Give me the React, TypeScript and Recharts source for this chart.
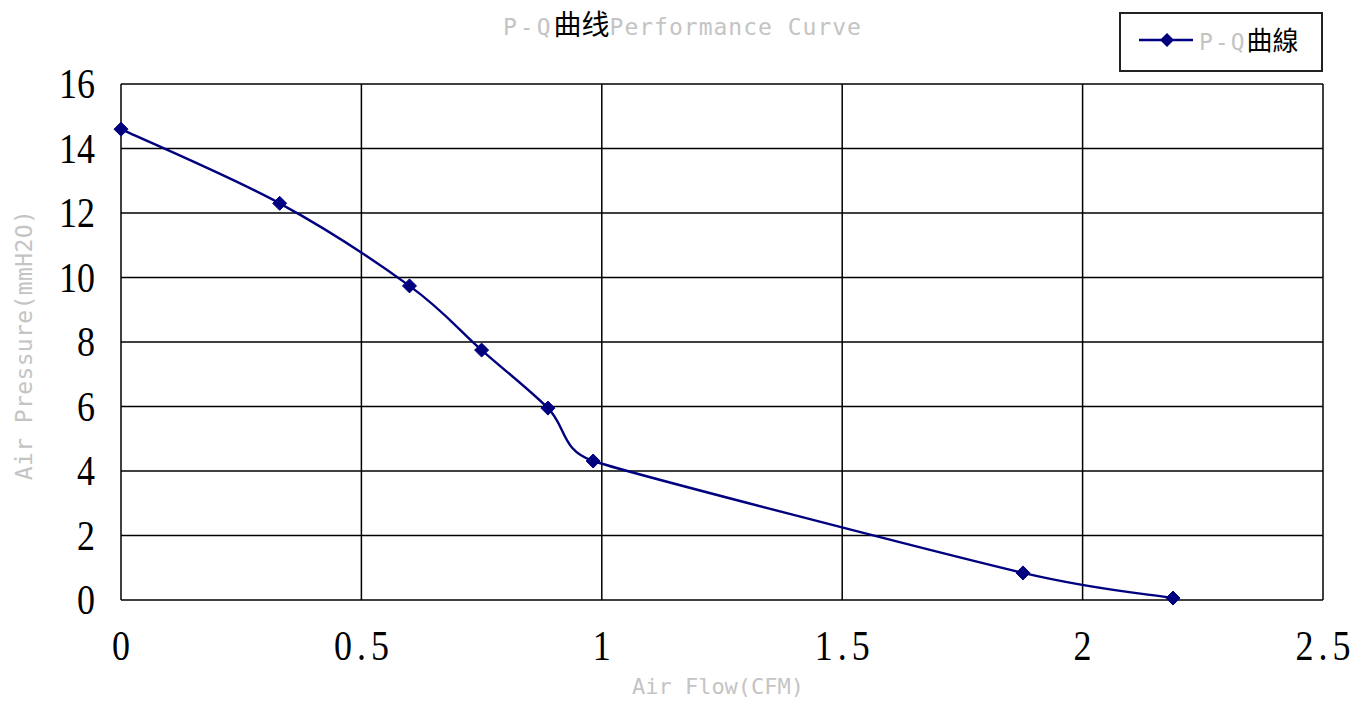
import React from "react";
import { LineChart, Line, XAxis, YAxis, CartesianGrid } from "recharts";

const flow = [0, 0.33, 0.6, 0.75, 0.888, 0.982, 1.876, 2.188];
const pressure = [14.6, 12.3, 9.74, 7.75, 5.95, 4.31, 0.84, 0.06];
const xTicks = [0, 0.5, 1, 1.5, 2, 2.5];
const yTicks = [0, 2, 4, 6, 8, 10, 12, 14, 16];

const data = flow.map((f, i) => ({ flow: f, pressure: pressure[i] }));

const NAVY = "#00007f";
const GRAY = "#c4c4c4";
const MONO = "'DejaVu Sans Mono', monospace";
const CJK = "'Noto Sans CJK SC', sans-serif";
const SERIF = "'Liberation Serif', 'Times New Roman', serif";

// Spreadsheet-style smoothing: Catmull-Rom Bezier with tangent length limited
function smoothCurve(context: any) {
  let pts: number[][] = [];
  return {
    areaStart() {},
    areaEnd() {},
    lineStart() {
      pts = [];
    },
    point(x: number, y: number) {
      pts.push([+x, +y]);
    },
    lineEnd() {
      const n = pts.length;
      if (!n) return;
      const dist = (a: number[], b: number[]) => Math.hypot(a[0] - b[0], a[1] - b[1]);
      const tang = (i: number) => {
        const p = pts[Math.max(0, i - 1)];
        const q = pts[Math.min(n - 1, i + 1)];
        let tx = (q[0] - p[0]) / 6;
        let ty = (q[1] - p[1]) / 6;
        const len = Math.hypot(tx, ty);
        const segs: number[] = [];
        if (i > 0) segs.push(dist(pts[i - 1], pts[i]));
        if (i < n - 1) segs.push(dist(pts[i], pts[i + 1]));
        const lim = Math.min(...segs) / 2;
        if (len > lim && len > 0) {
          tx *= lim / len;
          ty *= lim / len;
        }
        return [tx, ty];
      };
      context.moveTo(pts[0][0], pts[0][1]);
      for (let i = 0; i < n - 1; i++) {
        const a = pts[i];
        const b = pts[i + 1];
        const ta = tang(i);
        const tb = tang(i + 1);
        context.bezierCurveTo(a[0] + ta[0], a[1] + ta[1], b[0] - tb[0], b[1] - tb[1], b[0], b[1]);
      }
    },
  };
}

const Diamond = (props: any) => {
  const { cx, cy, index } = props;
  if (cx == null || cy == null) return <g key={index} />;
  const s = 7;
  return (
    <path
      key={index}
      d={`M${cx},${cy - s}L${cx + s},${cy}L${cx},${cy + s}L${cx - s},${cy}Z`}
      fill={NAVY}
      stroke={NAVY}
    />
  );
};

const YTick = (props: any) => {
  const { x, y, payload } = props;
  return (
    <text
      x={0}
      y={0}
      transform={`translate(${x},${y}) scale(1,1.2)`}
      textAnchor="end"
      dominantBaseline="central"
      fill="#000"
      fontSize={36}
      fontFamily={SERIF}
    >
      {payload.value}
    </text>
  );
};

const XTick = (props: any) => {
  const { x, y, payload } = props;
  return (
    <text
      x={0}
      y={0}
      transform={`translate(${x + 2.5},${y}) scale(1,1.2)`}
      textAnchor="middle"
      dominantBaseline="central"
      fill="#000"
      fontSize={36}
      fontFamily={SERIF}
      letterSpacing={5}
    >
      {String(payload.value)}
    </text>
  );
};

export default function App() {
  return (
    <div style={{ position: "absolute", left: 0, top: 0, width: 1370, height: 706, background: "#fff" }}>
      <LineChart
        width={1370}
        height={706}
        data={data}
        margin={{ top: 84, right: 47, bottom: 46, left: 21 }}
      >
        <CartesianGrid stroke="#000" strokeWidth={1.5} />
        <XAxis
          dataKey="flow"
          type="number"
          domain={[0, 2.5]}
          ticks={xTicks}
          axisLine={false}
          tickLine={false}
          tickSize={0}
          tickMargin={46}
          height={60}
          interval={0}
          tick={XTick}
        />
        <YAxis
          type="number"
          domain={[0, 16]}
          ticks={yTicks}
          axisLine={false}
          tickLine={false}
          tickSize={0}
          tickMargin={26}
          width={100}
          interval={0}
          tick={YTick}
        />
        <Line
          type={smoothCurve as any}
          dataKey="pressure"
          stroke={NAVY}
          strokeWidth={2.4}
          dot={Diamond}
          activeDot={false}
          isAnimationActive={false}
        />
      </LineChart>

      <div
        style={{
          position: "absolute",
          left: 503,
          top: 6,
          fontSize: 23,
          lineHeight: "34px",
          whiteSpace: "nowrap",
        }}
      >
        <span style={{ fontFamily: MONO, color: GRAY, letterSpacing: 3 }}>P-Q</span>
        <span style={{ fontFamily: CJK, color: "#000", fontSize: 28 }}>曲线</span>
        <span style={{ fontFamily: MONO, color: GRAY, letterSpacing: 1 }}>Performance Curve</span>
      </div>

      <div
        style={{
          position: "absolute",
          left: 1119,
          top: 12,
          width: 200,
          height: 56,
          border: "2px solid #222",
          boxSizing: "content-box",
        }}
      >
        <svg style={{ position: "absolute", left: 16, top: 15 }} width={60} height={22}>
          <line x1={2} y1={11} x2={56} y2={11} stroke={NAVY} strokeWidth={2.4} />
          <path d="M30,4L37,11L30,18L23,11Z" fill={NAVY} />
        </svg>
        <div
          style={{
            position: "absolute",
            left: 78,
            top: 8,
            fontSize: 23,
            lineHeight: "34px",
            whiteSpace: "nowrap",
          }}
        >
          <span style={{ fontFamily: MONO, color: GRAY, letterSpacing: 2 }}>P-Q</span>
          <span style={{ fontFamily: CJK, color: "#000", fontSize: 26 }}>曲線</span>
        </div>
      </div>

      <div
        style={{
          position: "absolute",
          left: 24,
          top: 345,
          transform: "translate(-50%, -50%) rotate(-90deg)",
          fontFamily: MONO,
          color: GRAY,
          fontSize: 23,
          letterSpacing: 0.4,
          whiteSpace: "nowrap",
        }}
      >
        Air Pressure(mmH2O)
      </div>

      <div
        style={{
          position: "absolute",
          left: 0,
          width: 1436,
          top: 674,
          textAlign: "center",
          fontFamily: MONO,
          color: GRAY,
          fontSize: 22,
          whiteSpace: "nowrap",
        }}
      >
        Air Flow(CFM)
      </div>
    </div>
  );
}
